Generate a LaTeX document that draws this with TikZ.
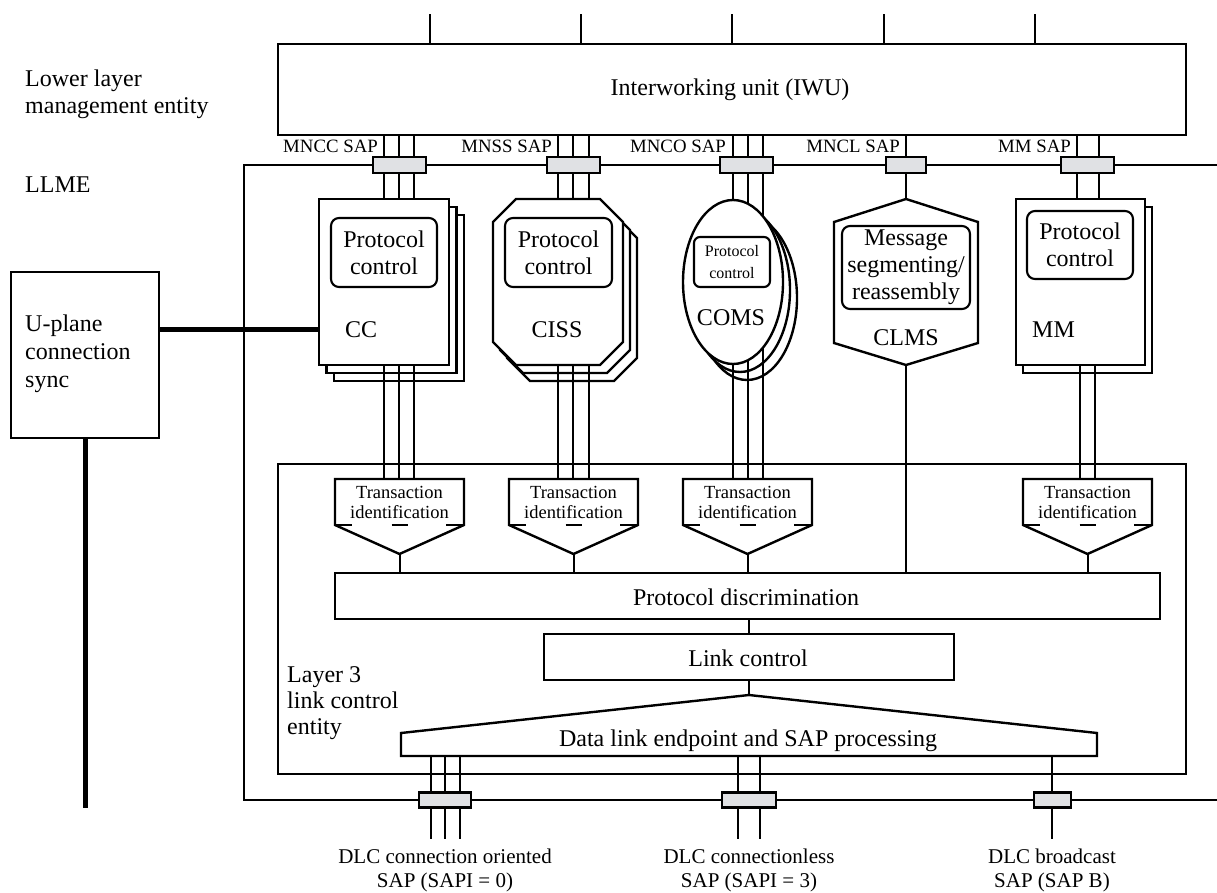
\documentclass[tikz,border=0pt]{standalone}
\usepackage{fontspec}
\setmainfont{Liberation Serif}
\usetikzlibrary{shapes.geometric,calc}
\definecolor{sapgray}{RGB}{224,225,228}
\newcommand\octshape[1]{%
  \draw[shapeline] ($(#1.north west)+(23,0)$) -- ($(#1.north east)+(-23,0)$) -- ($(#1.north east)+(0,23)$) -- ($(#1.south east)+(0,-23)$) -- ($(#1.south east)+(-23,0)$) -- ($(#1.south west)+(23,0)$) -- ($(#1.south west)+(0,-23)$) -- ($(#1.north west)+(0,23)$) -- cycle;}
\newcommand\tidraw[1]{%
  \coordinate (#1tip) at ($(#1.south)+(0,29)$);
  \draw[shapeline] (#1.south west) -- (#1.north west) -- (#1.north east) -- (#1.south east) -- (#1tip) -- cycle;
  \draw[shapeline] (#1.south west) -- ++(17,0);
  \draw[shapeline] ($(#1.south)+(-8,0)$) -- ++(16,0);
  \draw[shapeline] (#1.south east) -- ++(-18,0);
  \node[txtS,align=center] at (#1.center) {Transaction\\identification};
  \draw[conn] (#1tip) -- (#1tip |- pd.north);}
\begin{document}
\begin{tikzpicture}[x=1pt,y=-1pt,
  refn/.style={inner sep=0pt,outer sep=0pt,draw=none},
  shapeline/.style={draw=black,line width=2.4pt,fill=white,line join=miter},
  bx/.style={draw=black,line width=2.4pt,fill=white,inner sep=0pt,outer sep=0pt},
  pcbox/.style={draw=black,line width=2.1pt,fill=white,rounded corners=8pt,inner sep=0pt,outer sep=0pt,align=center},
  conn/.style={draw=black,line width=2pt},
  heavy/.style={draw=black,line width=5pt},
  llmeframe/.style={draw=black,line width=1.2pt},
  sap/.style={draw=black,line width=2.4pt,fill=sapgray,inner sep=0pt,outer sep=0pt,minimum height=16pt},
  txtL/.style={font=\fontsize{24}{27}\selectfont,inner sep=0pt},
  txtS/.style={font=\fontsize{18.5}{20}\selectfont,inner sep=0pt},
  txtSAP/.style={font=\fontsize{18.8}{20}\selectfont,inner sep=0pt},
  txtM/.style={font=\fontsize{21}{24}\selectfont,inner sep=0pt},
  txtXS/.style={font=\fontsize{16}{21.5}\selectfont,inner sep=0pt},
]
\useasboundingbox (0,0) rectangle (1217,893);

% reference nodes
\node[refn,minimum width=130pt,minimum height=166pt] (ccf) at (384,282) {};
\node[refn,minimum width=130pt,minimum height=166pt] (cissf) at (558,282) {};
\node[refn,minimum width=100pt,minimum height=164pt] (comsf) at (733,282) {};
\node[refn,minimum width=144pt,minimum height=166pt] (clmsf) at (906,282) {};
\node[refn,minimum width=129pt,minimum height=166pt] (mmf) at (1080.5,282) {};
\node[refn,minimum width=129pt,minimum height=46pt] (ti1) at (399.5,502) {};
\node[refn,minimum width=129pt,minimum height=46pt] (ti2) at (573.5,502) {};
\node[refn,minimum width=129pt,minimum height=46pt] (ti3) at (747.5,502) {};
\node[refn,minimum width=129pt,minimum height=46pt] (ti4) at (1087.5,502) {};
\node[refn,minimum width=825pt,minimum height=46pt] (pd) at (747.5,596) {};

% channel x positions
\coordinate (c1) at (384,0); \coordinate (c2) at (399,0); \coordinate (c3) at (414,0);
\coordinate (s1) at (558,0); \coordinate (s2) at (573,0); \coordinate (s3) at (589,0);
\coordinate (o1) at (733,0); \coordinate (o2) at (748,0); \coordinate (o3) at (763,0);
\coordinate (l1) at (906,0);
\coordinate (m1) at (1077,0); \coordinate (m2) at (1099,0);
\coordinate (m1b) at (1080,0); \coordinate (m2b) at (1095,0);

% LLME frame
\coordinate (fr1) at (1217,165); \coordinate (fr2) at (1217,800);
\draw[llmeframe] (fr1) -| (244,800) -- (fr2);

% IWU
\node[bx,minimum width=908pt,minimum height=91pt] (iwu) at (732,89.5) {};
\node[txtL,anchor=base] at (730,96) {Interworking unit (IWU)};
\foreach \dx/\n in {-302/a,-151/b,0/c,152/d,303/e} {
  \coordinate (tick\n) at ($(iwu.north)+(\dx,-30)$);
  \draw[conn] ($(iwu.north)+(\dx,0)$) -- (tick\n);
}

% back sheets
\node[bx,minimum width=130pt,minimum height=166pt] (cc3) at (399,298) {};
\node[bx,minimum width=130pt,minimum height=166pt] (cc2) at (391.5,290) {};
\node[refn,minimum width=130pt,minimum height=166pt] (ciss3) at (572,298) {};
\octshape{ciss3}
\node[refn,minimum width=130pt,minimum height=166pt] (ciss2) at (565,290) {};
\octshape{ciss2}
\node[bx,ellipse,minimum width=100pt,minimum height=164pt] (coms3) at (747,298) {};
\node[bx,ellipse,minimum width=100pt,minimum height=164pt] (coms2) at (740,290) {};
\node[bx,minimum width=129pt,minimum height=166pt] (mm2) at (1087.5,290) {};

% channel lines
\foreach \ch in {c1,c2,c3} \draw[conn] (\ch |- iwu.south) -- (\ch |- ti1.north);
\foreach \ch in {s1,s2,s3} \draw[conn] (\ch |- iwu.south) -- (\ch |- ti2.north);
\foreach \ch in {o1,o2,o3} \draw[conn] (\ch |- iwu.south) -- (\ch |- ti3.north);
\draw[conn] (l1 |- iwu.south) -- (l1 |- pd.north);
\foreach \ch in {m1,m2} \draw[conn] (\ch |- iwu.south) -- (\ch |- mmf.center);
\foreach \ch in {m1b,m2b} \draw[conn] (\ch |- mmf.center) -- (\ch |- ti4.north);

% front shapes
\draw[shapeline] (ccf.south west) rectangle (ccf.north east);
\octshape{cissf}
\draw[shapeline] (comsf.center) ellipse [x radius=50, y radius=82];
\draw[shapeline] (clmsf.north) -- ($(clmsf.north east)+(0,23)$) -- ($(clmsf.south east)+(0,-22)$) -- (clmsf.south) -- ($(clmsf.south west)+(0,-22)$) -- ($(clmsf.north west)+(0,23)$) -- cycle;
\draw[shapeline] (mmf.south west) rectangle (mmf.north east);

% inner boxes and labels
\node[pcbox,txtL,minimum width=106pt,minimum height=69pt] (ccpc) at (384,252.5) {Protocol\\control};
\node[txtL,anchor=base west] (cclbl) at (345,337) {CC};
\node[pcbox,txtL,minimum width=107pt,minimum height=69pt] (cisspc) at (558.5,252.5) {Protocol\\control};
\node[txtL,anchor=base] (cisslbl) at (557,337) {CISS};
\node[pcbox,txtXS,minimum width=76pt,minimum height=50pt,rounded corners=6pt] (comspc) at (732,262) {Protocol\\control};
\node[txtL,anchor=base] (comslbl) at (731,325) {COMS};
\node[pcbox,txtL,minimum width=128pt,minimum height=83pt] (clmspc) at (906,267.5) {Message\\segmenting/\\reassembly};
\node[txtL,anchor=base] (clmslbl) at (906,345) {CLMS};
\node[pcbox,txtL,minimum width=106pt,minimum height=68pt] (mmpc) at (1080,245) {Protocol\\control};
\node[txtL,anchor=base west] (mmlbl) at (1032,337) {MM};

% upper SAPs
\node[sap,minimum width=53pt] (sapcc) at (399.5,165) {};
\node[sap,minimum width=53pt] (sapss) at (573.5,165) {};
\node[sap,minimum width=53pt] (sapco) at (746.5,165) {};
\node[sap,minimum width=40pt] (sapcl) at (906,165) {};
\node[sap,minimum width=53pt] (sapmm) at (1087.5,165) {};
\node[txtSAP,anchor=base east] at (378,153) {MNCC SAP};
\node[txtSAP,anchor=base east] at (552,153) {MNSS SAP};
\node[txtSAP,anchor=base east] at (726,153) {MNCO SAP};
\node[txtSAP,anchor=base east] at (900,153) {MNCL SAP};
\node[txtSAP,anchor=base east] at (1071,153) {MM SAP};

% layer 3 link control entity
\node[draw=black,line width=2.4pt,inner sep=0pt,outer sep=0pt,minimum width=908pt,minimum height=310pt] (l3) at (732,619) {};
\node[bx,minimum width=825pt,minimum height=46pt] (pdbox) at (pd) {};
\node[txtL,anchor=base] at (746,605) {Protocol discrimination};
\tidraw{ti1}
\tidraw{ti2}
\tidraw{ti3}
\tidraw{ti4}
\node[bx,minimum width=410pt,minimum height=46pt] (lc) at (749,657) {};
\node[txtL,anchor=base] at (748,666) {Link control};
\draw[conn] (lc.north |- pd.south) -- (lc.north);
\node[refn,minimum width=696pt,minimum height=23pt] (dl) at (749,744.5) {};
\coordinate (apex) at ($(dl.north)+(0,-38)$);
\draw[shapeline] (dl.south west) -- (dl.north west) -- (apex) -- (dl.north east) -- (dl.south east) -- cycle;
\draw[conn] (lc.south) -- (apex);
\node[txtL,anchor=base] at (748,746) {Data link endpoint and SAP processing};
\node[txtL,align=left,anchor=west,font=\fontsize{24}{26}\selectfont] at (287,703) {Layer 3\\link control\\entity};

% bottom channels
\coordinate (d1) at (431,0); \coordinate (d2) at (445,0); \coordinate (d3) at (460,0);
\coordinate (e1) at (738,0); \coordinate (e2) at (760,0); \coordinate (f1) at (1052,0);
\foreach \ch in {d1,d2,d3,e1,e2,f1} {
  \coordinate (\ch e) at ($(\ch |- dl.south)+(0,83)$);
  \draw[conn] (\ch |- dl.south) -- (\ch e);
}
\node[sap,minimum width=52pt,minimum height=15pt] (sapd1) at (445,800) {};
\node[sap,minimum width=54pt,minimum height=15pt] (sapd2) at (749,800) {};
\node[sap,minimum width=37pt,minimum height=15pt] (sapd3) at (1052.5,800) {};
\node[txtM,align=center] at (445,870) {DLC connection oriented\\SAP (SAPI = 0)};
\node[txtM,align=center] at (749,870) {DLC connectionless\\SAP (SAPI = 3)};
\node[txtM,align=center] at (1052,870) {DLC broadcast\\SAP (SAP B)};

% left side
\node[txtL,align=left,anchor=west] at (25,94) {Lower layer\\management entity};
\node[txtL,anchor=base west] at (25,193) {LLME};
\node[bx,minimum width=148pt,minimum height=166pt] (up) at (85,355) {};
\node[txtL,align=left,anchor=west,font=\fontsize{24}{28}\selectfont] at (25,354) {U-plane\\connection\\sync};
\coordinate (upr) at ($(up.east)+(0,-26)$);
\draw[heavy] (upr) -- (upr -| ccf.west);
\coordinate (upend) at ($(up.south)+(0,370)$);
\draw[heavy] (up.south) -- (upend);
\end{tikzpicture}
\end{document}
